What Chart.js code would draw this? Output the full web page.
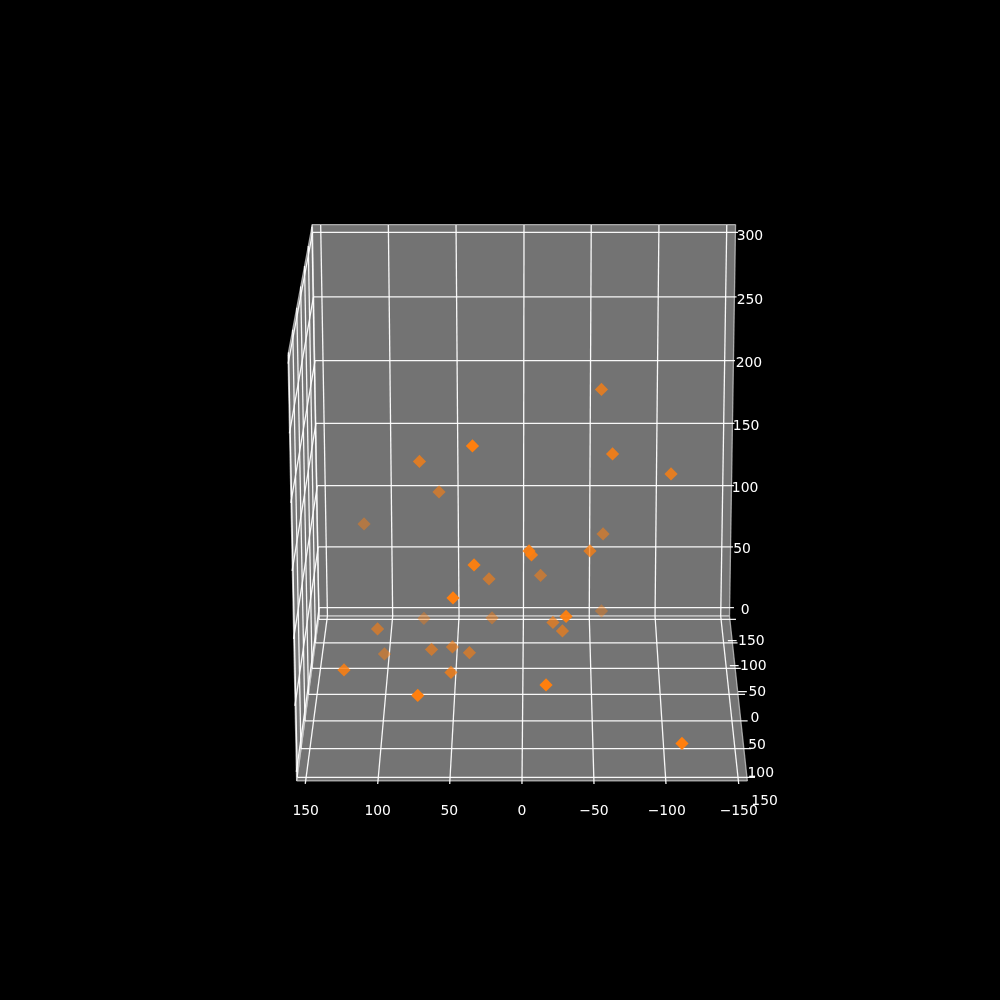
<!DOCTYPE html>
<html>
<head>
<meta charset="utf-8">
<style>html,body{margin:0;padding:0;background:#000}canvas{display:block}</style>
<script src="https://cdn.jsdelivr.net/npm/chart.js@4/dist/chart.umd.js"></script>
</head>
<body>
<canvas id="c" width="1000" height="1000"></canvas>
<script>
// Values in projected view units: horizontal = x axis units, vertical = z axis units.
const pointX = [-54.5,35.1,-62.2,-102.8,71.9,58.3,110.4,-55.6,-4.2,-5.9,-46.5,34.0,23.6,-12.2,48.6,68.8,21.5,-54.5,-29.9,-20.8,-27.4,101.0,63.5,49.0,37.2,96.2,50.0,124.3,73.1,-16.0,-110.4];
const pointZ = [174.6,129.4,123.0,107.0,117.0,92.6,67.0,59.0,45.4,42.2,45.4,34.2,23.0,25.8,7.8,-8.6,-8.2,-2.6,-7.0,-11.8,-18.6,-17.0,-33.4,-31.4,-36.0,-37.0,-51.8,-49.8,-70.2,-61.8,-108.6];
const pointShade = [.75,1,.85,.8,.75,.6,.45,.55,.9,.9,.75,.95,.6,.55,1,.4,.45,.4,.95,.65,.65,.6,.6,.6,.6,.5,.75,.85,1,1,1];

const xTickLabels = ['150','100','50','0','\u221250','\u2212100','\u2212150'];
const yTickLabels = ['\u2212150','\u2212100','\u221250','0','50','100','150'];
const zTickLabels = ['0','50','100','150','200','250','300'];

const xLabelH = [150.9,100.9,51.2,0.7,-49.3,-99.8,-149.8];
const xLabelV = -163.3;
const yLabelH = [-154.5,-155.9,-158.7,-161.1,-162.5,-165.1,-167.8];
const yLabelV = [-26.6,-46.6,-67.4,-88.2,-109.8,-132.2,-154.6];
const zLabelH = [-154.2,-152.1,-154.2,-154.9,-156.9,-157.6,-157.6];
const zLabelV = [-1.8,47,95.8,145.4,195.8,246.2,297.4];

// x grid lines: wall top, wall foot, floor front
const xGridTop = [140.5,93.5,46.5,-0.7,-47.4,-94.4,-141.5];
const xGridFoot = [135.8,90.5,44.4,-0.3,-46.0,-91.7,-137.3];
const xGridFront = [151.2,100.9,50.9,0.7,-49.3,-99.3,-149.8];
const xGridTopV = 306.2, xGridFootV = -6.6, xGridFrontV = -141;

// z grid lines on back wall and left wall
const zGridV = [0,48.6,97.6,147.5,197.6,248.6,300.2];
const zGridLeft = [141.5,142.2,142.8,143.8,144.4,145.5,146.1];
const zGridRight = [-146.5,-145.8,-146.5,-146.9,-147.2,-148.3,-149.3];
const zSideH = [157.4,158.4,159.3,160.3,161.2,162.2,163.1];
const zSideV = [-131.4,-78.6,-25.0,29.4,83.8,139.4,195.2];

// y grid lines on floor and left wall
const yGridV = [-9.3,-28.2,-48.5,-69.3,-90.6,-112.8,-135.7];
const yGridLeft = [141.7,144.1,146.5,149.0,151.4,154.2,156.7];
const yGridRight = [-147.9,-149.0,-151.2,-154.2,-156.0,-158.3,-161.1];
const ySideH = [146.6,149.1,151.7,154.4,157.1,159.9,162.8];
const ySideV = [304.7,289.4,273.4,256.9,239.9,222.4,204.3];

// Panes
const backPaneH = [146.3,-147.6,-143.4,141.7], backPaneV = [306.5,306.5,-6.6,-6.6];
const leftPaneH = [146.3,163.2,157.2,141.7], leftPaneV = [306.5,202.2,-138.6,-6.6];
const floorPaneH = [141.7,-143.4,-155.8,157.2], floorPaneV = [-6.6,-6.6,-138.6,-138.6];

const lineColor = 'rgba(255,255,255,0.95)';
const seg = (a,b,c,d,color) => ({type:'line',data:[{x:a,y:b},{x:c,y:d}],borderColor:color||lineColor,borderWidth:1.3,pointRadius:0,fill:false,tension:0,order:2,clip:false});

const lineSets = [];
xGridTop.forEach((h,i)=>{
  lineSets.push(seg(h,xGridTopV,xGridFoot[i],xGridFootV));
  lineSets.push(seg(xGridFoot[i],xGridFootV,xGridFront[i],xGridFrontV));
});
zGridV.forEach((v,i)=>{
  lineSets.push(seg(zGridLeft[i],v,zGridRight[i],v));
  lineSets.push(seg(zGridLeft[i],v,zSideH[i],zSideV[i]));
});
yGridV.forEach((v,i)=>{
  lineSets.push(seg(yGridLeft[i],v,yGridRight[i],v));
  lineSets.push(seg(yGridLeft[i],v,ySideH[i],ySideV[i]));
});
const edgeColor = 'rgba(205,205,205,0.75)';
[[backPaneH,backPaneV],[leftPaneH,leftPaneV],[floorPaneH,floorPaneV]].forEach(([hs,vs])=>{
  hs.forEach((h,i)=>{const j=(i+1)%hs.length;lineSets.push(seg(h,vs[i],hs[j],vs[j],edgeColor));});
});

const panes = {
  id:'panes',
  beforeDatasetsDraw(chart){
    const {ctx,scales:{x,y}} = chart;
    ctx.save();
    ctx.fillStyle = '#000';
    ctx.fillRect(0,0,chart.width,chart.height);
    [[leftPaneH,leftPaneV,'rgb(119,119,119)'],[backPaneH,backPaneV,'rgb(115,115,115)'],[floorPaneH,floorPaneV,'rgb(116,116,116)']].forEach(([hs,vs,col])=>{
      ctx.beginPath();
      hs.forEach((h,i)=>{
        const px=x.getPixelForValue(h),py=y.getPixelForValue(vs[i]);
        i?ctx.lineTo(px,py):ctx.moveTo(px,py);
      });
      ctx.closePath();ctx.fillStyle=col;ctx.fill();
    });
    ctx.restore();
  }
};
const tickText = {
  id:'tickText',
  afterDatasetsDraw(chart){
    const {ctx,scales:{x,y}} = chart;
    ctx.save();
    ctx.font = '13.9px "DejaVu Sans"';
    ctx.fillStyle = '#fff';
    ctx.textAlign = 'center';
    ctx.textBaseline = 'middle';
    xTickLabels.forEach((t,i)=>ctx.fillText(t,x.getPixelForValue(xLabelH[i]),y.getPixelForValue(xLabelV)));
    yTickLabels.forEach((t,i)=>ctx.fillText(t,x.getPixelForValue(yLabelH[i]),y.getPixelForValue(yLabelV[i])));
    zTickLabels.forEach((t,i)=>ctx.fillText(t,x.getPixelForValue(zLabelH[i]),y.getPixelForValue(zLabelV[i])));
    ctx.restore();
  }
};

new Chart(document.getElementById('c'),{
  type:'scatter',
  data:{datasets:[
    {type:'scatter',data:pointX.map((h,i)=>({x:h,y:pointZ[i]})),pointStyle:'rectRot',pointRadius:6.6,pointBorderWidth:0,borderWidth:0,
     backgroundColor:pointShade.map(a=>`rgba(255,127,14,${a})`),order:1,clip:false},
    ...lineSets
  ]},
  plugins:[panes,tickText],
  options:{
    responsive:false,animation:false,devicePixelRatio:1,
    layout:{padding:0,autoPadding:false},
    plugins:{legend:{display:false},tooltip:{enabled:false}},
    events:[],
    scales:{
      x:{type:'linear',reverse:true,min:-331.25,max:363.19,display:false},
      y:{type:'linear',min:-313.84,max:486.16,display:false}
    }
  }
});
</script>
</body>
</html>
